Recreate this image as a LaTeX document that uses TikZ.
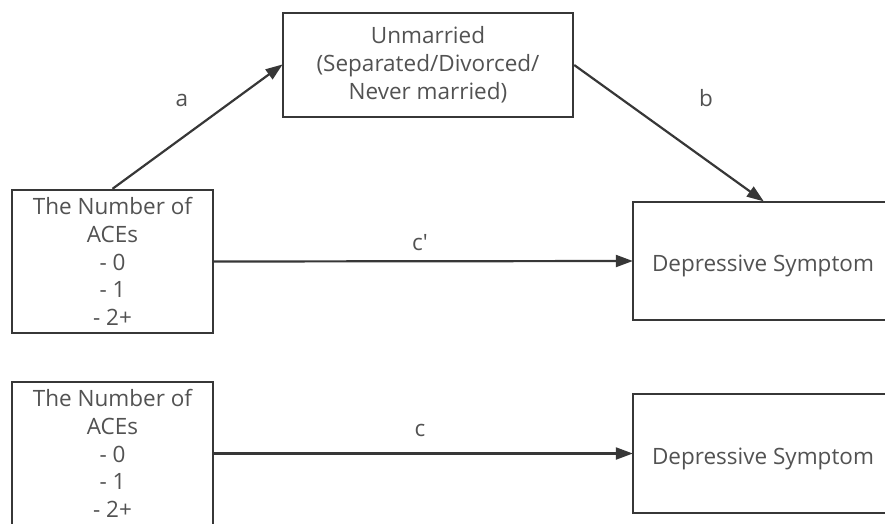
\documentclass[tikz,border=0pt]{standalone}
\usepackage{fontspec}
\setmainfont{Open Sans}
\usetikzlibrary{arrows.meta}
\definecolor{txt}{RGB}{82,82,82}
\definecolor{ln}{RGB}{55,55,55}
\tikzset{
  box/.style={draw=ln, line width=2.4pt, rectangle, inner sep=0pt, align=center,
    text=txt, font=\fontsize{22.5}{27.8}\selectfont},
  lbl/.style={text=txt, font=\fontsize{22.5}{27.8}\selectfont, inner sep=0pt},
  conn/.style={draw=ln, line width=2.2pt, -{Triangle[length=17pt,width=12pt]}, shorten >=-1pt}
}
\begin{document}
\begin{tikzpicture}[x=1pt,y=-1pt]
\useasboundingbox (0,0) rectangle (885,523);
\clip (0,0) rectangle (885,523);
\node[box, minimum width=290pt, minimum height=104pt] (um) at (428,65)
  {Unmarried\\(Separated/Divorced/\\Never married)};
\node[box, minimum width=201pt, minimum height=143pt] (ace1) at (112.5,261.5)
  {The Number of\\ACEs\\- 0\\- 1\\- 2+};
\node[box, minimum width=260pt, minimum height=118pt] (dep1) at (763,261)
  {\raisebox{-5pt}[\height][\depth]{Depressive Symptom}};
\node[box, minimum width=201pt, minimum height=143pt] (ace2) at (112.5,453.5)
  {The Number of\\ACEs\\- 0\\- 1\\- 2+};
\node[box, minimum width=260pt, minimum height=119pt] (dep2) at (763,453.5)
  {\raisebox{-5pt}[\height][\depth]{Depressive Symptom}};
\draw[conn] (ace1.north) -- (um.west);
\draw[conn] (um.east) -- (dep1.north);
\draw[conn] (ace1.east) -- (dep1.west);
\draw[conn] (ace2.east) -- (dep2.west);
\node[lbl] (la) at (182,100) {a};
\node[lbl] (lb) at (706,98) {b};
\node[lbl] (lcp) at (420,243) {c\textquotesingle};
\node[lbl] (lc) at (420,430) {c};
\end{tikzpicture}
\end{document}
